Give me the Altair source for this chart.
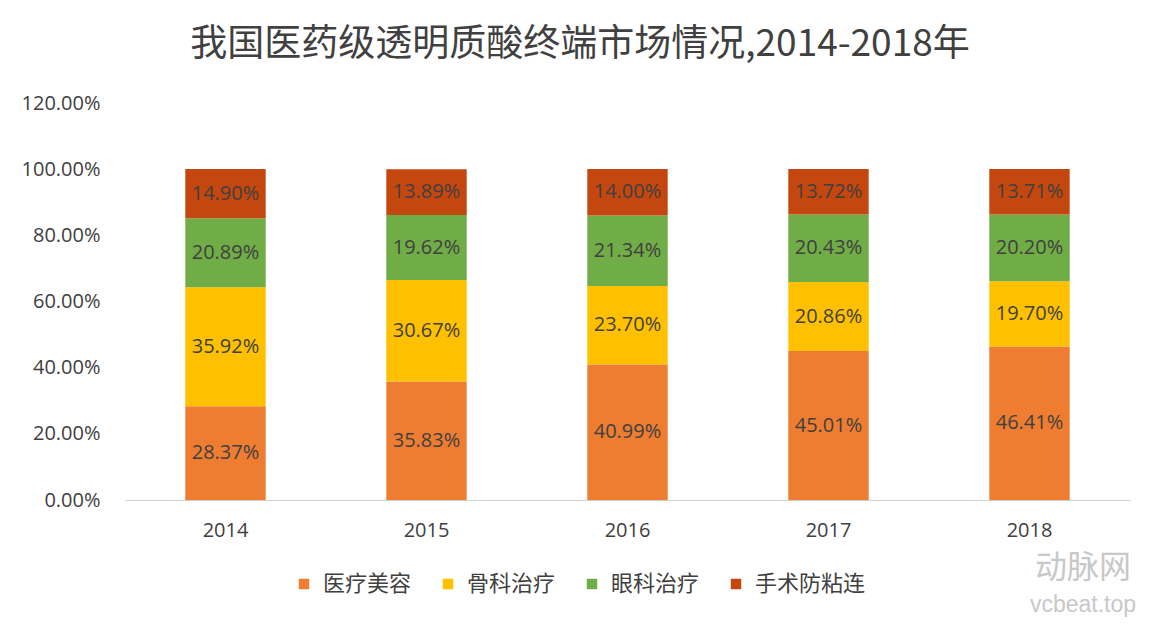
import altair as alt
import pandas as pd

years = ["2014", "2015", "2016", "2017", "2018"]
categories = ["医疗美容", "骨科治疗", "眼科治疗", "手术防粘连"]
colors = ["#EE7D31", "#FFC000", "#70AD47", "#C4470F"]
medical_beauty = [28.37, 35.83, 40.99, 45.01, 46.41]
orthopedics = [35.92, 30.67, 23.70, 20.86, 19.70]
ophthalmology = [20.89, 19.62, 21.34, 20.43, 20.20]
anti_adhesion = [14.90, 13.89, 14.00, 13.72, 13.71]

series = [medical_beauty, orthopedics, ophthalmology, anti_adhesion]
rows = []
for i, y in enumerate(years):
    base = 0.0
    for k, cat in enumerate(categories):
        v = series[k][i] / 100.0
        rows.append({"year": y, "cat": cat, "order": k, "value": v,
                     "y0": base, "y1": base + v, "mid": base + v / 2,
                     "label": f"{series[k][i]:.2f}%"})
        base += v
df = pd.DataFrame(rows)

FONT_NUM = "Open Sans"
FONT_CJK = "Noto Sans CJK SC"

xenc = alt.X("year:N", title=None, sort=years,
             scale=alt.Scale(paddingInner=0.6, paddingOuter=0.3),
             axis=alt.Axis(labelAngle=0, labelFont=FONT_NUM, labelFontSize=20,
                           labelColor="#404040", labelPadding=20, ticks=False,
                           domainColor="#D0D0D0", domainWidth=1))

bars = alt.Chart(df).mark_bar().encode(
    x=xenc,
    y=alt.Y("y0:Q", title=None,
            scale=alt.Scale(domain=[0, 1.2], nice=False),
            axis=alt.Axis(format=".2%", values=[0, 0.2, 0.4, 0.6, 0.8, 1.0, 1.2],
                          labelFont=FONT_NUM, labelFontSize=20, labelColor="#404040",
                          labelPadding=25, ticks=False, domain=False, grid=False)),
    y2="y1:Q",
    color=alt.Color("cat:N", sort=categories, title=None,
                    scale=alt.Scale(domain=categories, range=colors),
                    legend=alt.Legend(orient="none", legendX=168, legendY=470,
                                      direction="horizontal", columns=4,
                                      symbolType="square", symbolSize=110,
                                      symbolStrokeWidth=0, labelFont=FONT_CJK,
                                      labelFontSize=22, labelColor="#404040",
                                      columnPadding=25, labelOffset=8)),
)

labels = alt.Chart(df).mark_text(font=FONT_NUM, fontSize=20, color="#404040").encode(
    x=alt.X("year:N", sort=years),
    y=alt.Y("mid:Q"),
    text="label:N",
)

title = alt.Chart(pd.DataFrame({"t": ["我国医药级透明质酸终端市场情况,2014-2018年"]})).mark_text(
    font=FONT_CJK, fontSize=37, color="#404040", align="center", baseline="middle"
).encode(x=alt.value(455), y=alt.value(-58), text="t:N")

wm = pd.DataFrame({"t": ["动脉网", "vcbeat.top"]})
watermark1 = alt.Chart(wm.iloc[[0]]).mark_text(
    font=FONT_CJK, fontSize=32, color="#C8C8C8", align="center", baseline="middle"
).encode(x=alt.value(958), y=alt.value(465), text="t:N")
watermark2 = alt.Chart(wm.iloc[[1]]).mark_text(
    font="Liberation Sans", fontSize=23, color="#C8C8C8", align="center", baseline="middle"
).encode(x=alt.value(958), y=alt.value(502), text="t:N")

chart = alt.layer(bars, labels, title, watermark1, watermark2).properties(
    width=1005, height=397,
    autosize=alt.AutoSizeParams(type="none"),
    padding={"left": 117, "top": 95, "right": 20, "bottom": 121},
    background="white",
).configure_view(stroke=None)

chart.save("out.html", embed_options={"renderer": "svg", "actions": False})
